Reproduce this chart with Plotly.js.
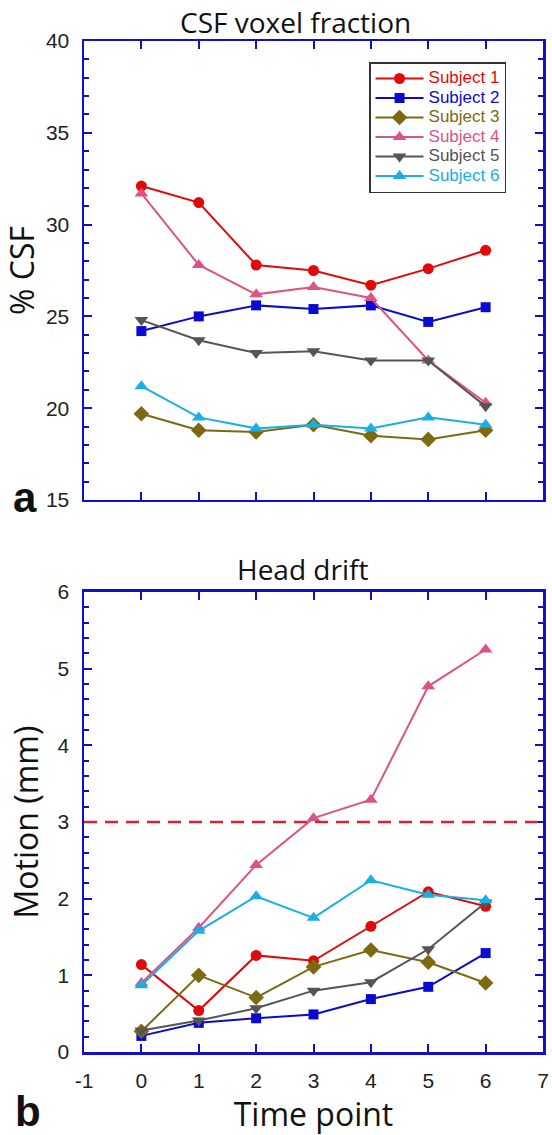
<!DOCTYPE html>
<html>
<head>
<meta charset="utf-8">
<script src="https://cdn.plot.ly/plotly-3.0.1.min.js"></script>
<style>html,body{margin:0;padding:0;background:#fff;}#chart{width:552px;height:1135px;}</style>
</head>
<body>
<div id="chart"></div>
<script>
const timePoints = [0, 1, 2, 3, 4, 5, 6];
const subjectNames = ["Subject 1", "Subject 2", "Subject 3", "Subject 4", "Subject 5", "Subject 6"];
const csf1 = [32.1, 31.2, 27.8, 27.5, 26.7, 27.6, 28.6];
const csf2 = [24.2, 25.0, 25.6, 25.4, 25.6, 24.7, 25.5];
const csf3 = [19.7, 18.8, 18.7, 19.1, 18.5, 18.3, 18.8];
const csf4 = [31.7, 27.8, 26.2, 26.6, 26.0, 22.6, 20.3];
const csf5 = [24.8, 23.7, 23.0, 23.1, 22.6, 22.6, 20.1];
const csf6 = [21.2, 19.5, 18.9, 19.1, 18.9, 19.5, 19.1];
const drift1 = [1.14, 0.54, 1.26, 1.19, 1.64, 2.09, 1.90];
const drift2 = [0.21, 0.38, 0.44, 0.49, 0.69, 0.85, 1.29];
const drift3 = [0.27, 1.00, 0.71, 1.11, 1.33, 1.17, 0.90];
const drift4 = [0.90, 1.62, 2.44, 3.05, 3.29, 4.77, 5.25];
const drift5 = [0.28, 0.41, 0.57, 0.80, 0.91, 1.34, 1.95];
const drift6 = [0.87, 1.58, 2.03, 1.75, 2.24, 2.05, 1.98];
const motionThreshold = 3;
const xTickVals = [-1, 0, 1, 2, 3, 4, 5, 6, 7];
const xTickText = ["-1", "0", "1", "2", "3", "4", "5", "6", "7"];

const colors = ["#e00a0a", "#0a0ad2", "#7d6a10", "#dc5486", "#555555", "#1aaee4"];
const symbols = ["circle", "square", "diamond", "triangle-up", "triangle-down", "triangle-up"];
const markerSizes = [11, 10, 12, 12, 12, 12];
const csfSeries = [csf1, csf2, csf3, csf4, csf5, csf6];
const driftSeries = [drift1, drift2, drift3, drift4, drift5, drift6];

const traces = [];
csfSeries.forEach((ys, i) => {
  traces.push({
    x: timePoints, y: ys, xaxis: 'x', yaxis: 'y', type: 'scatter', mode: 'lines+markers',
    name: '<span style="color:' + colors[i] + ';font-size:17px">' + subjectNames[i] + '</span>',
    line: {color: colors[i], width: 2},
    marker: {color: colors[i], symbol: symbols[i], size: markerSizes[i]},
    showlegend: true
  });
});
driftSeries.forEach((ys, i) => {
  traces.push({
    x: timePoints, y: ys, xaxis: 'x2', yaxis: 'y2', type: 'scatter', mode: 'lines+markers',
    name: subjectNames[i],
    line: {color: colors[i], width: 2},
    marker: {color: colors[i], symbol: symbols[i], size: markerSizes[i]},
    showlegend: false
  });
});

const frameColor = "#1010cc";
const tickFont = {family: "Liberation Sans, Arial, sans-serif", size: 21, color: "#222"};
const titleFont = {family: "Open Sans, sans-serif", size: 32, color: '#111'};
const axisCommon = {
  showline: true, linecolor: frameColor, linewidth: 2.5, mirror: 'allticks',
  ticks: 'inside', ticklen: 8, tickwidth: 2, tickcolor: frameColor,
  showgrid: false, zeroline: false, tickfont: tickFont, ticklabelstandoff: 8
};

const layout = {
  width: 552, height: 1135,
  margin: {l: 84, r: 9, t: 41, b: 83},
  paper_bgcolor: '#fff', plot_bgcolor: '#fff',
  showlegend: true,
  legend: {
    x: 0.621, y: 0.979, xanchor: 'left', yanchor: 'top',
    bgcolor: '#fff', bordercolor: '#333', borderwidth: 1.5,
    font: {family: "Liberation Sans, Arial, sans-serif", size: 12.7},
    tracegroupgap: 0, itemwidth: 48
  },
  xaxis: Object.assign({}, axisCommon, {
    domain: [0, 1], anchor: 'y', range: [-1, 7], tickvals: xTickVals, showticklabels: false
  }),
  yaxis: Object.assign({}, axisCommon, {
    domain: [0.546, 1], anchor: 'x', range: [15, 40], dtick: 5,
    minor: {ticks: 'inside', dtick: 1, ticklen: 5, tickwidth: 2, tickcolor: frameColor},
    title: {text: '% CSF', font: titleFont, standoff: 10}
  }),
  xaxis2: Object.assign({}, axisCommon, {
    domain: [0, 1], anchor: 'y2', range: [-1, 7], tickvals: xTickVals, ticktext: xTickText,
    title: {text: 'Time point', font: titleFont, standoff: 8}
  }),
  yaxis2: Object.assign({}, axisCommon, {
    domain: [0, 0.455], anchor: 'x2', range: [0, 6], dtick: 1,
    minor: {ticks: 'inside', dtick: 0.2, ticklen: 5, tickwidth: 2, tickcolor: frameColor},
    title: {text: 'Motion (mm)', font: titleFont, standoff: 10}
  }),
  shapes: [{
    type: 'line', xref: 'x2 domain', x0: 0, x1: 1, yref: 'y2', y0: motionThreshold, y1: motionThreshold,
    line: {color: '#dd2030', width: 2.5, dash: '13px,8px'}
  }],
  annotations: [
    {text: 'CSF voxel fraction', xref: 'paper', yref: 'paper', x: 0.46, y: 1.0188, xanchor: 'center', yanchor: 'middle',
     showarrow: false, font: {family: "Open Sans, sans-serif", size: 28, color: '#111'}},
    {text: 'Head drift', xref: 'paper', yref: 'paper', x: 0.477, y: 0.4777, xanchor: 'center', yanchor: 'middle',
     showarrow: false, font: {family: "Open Sans, sans-serif", size: 28, color: '#111'}},
    {text: '<b>a</b>', xref: 'paper', yref: 'paper', x: -0.1285, y: 0.548, xanchor: 'center', yanchor: 'middle',
     showarrow: false, font: {family: "Liberation Sans, Arial, sans-serif", size: 42, color: '#111'}},
    {text: '<b>b</b>', xref: 'paper', yref: 'paper', x: -0.122, y: -0.0593, xanchor: 'center', yanchor: 'middle',
     showarrow: false, font: {family: "Liberation Sans, Arial, sans-serif", size: 42, color: '#111'}}
  ]
};

Plotly.newPlot('chart', traces, layout, {displayModeBar: false, staticPlot: true});
</script>
</body>
</html>
